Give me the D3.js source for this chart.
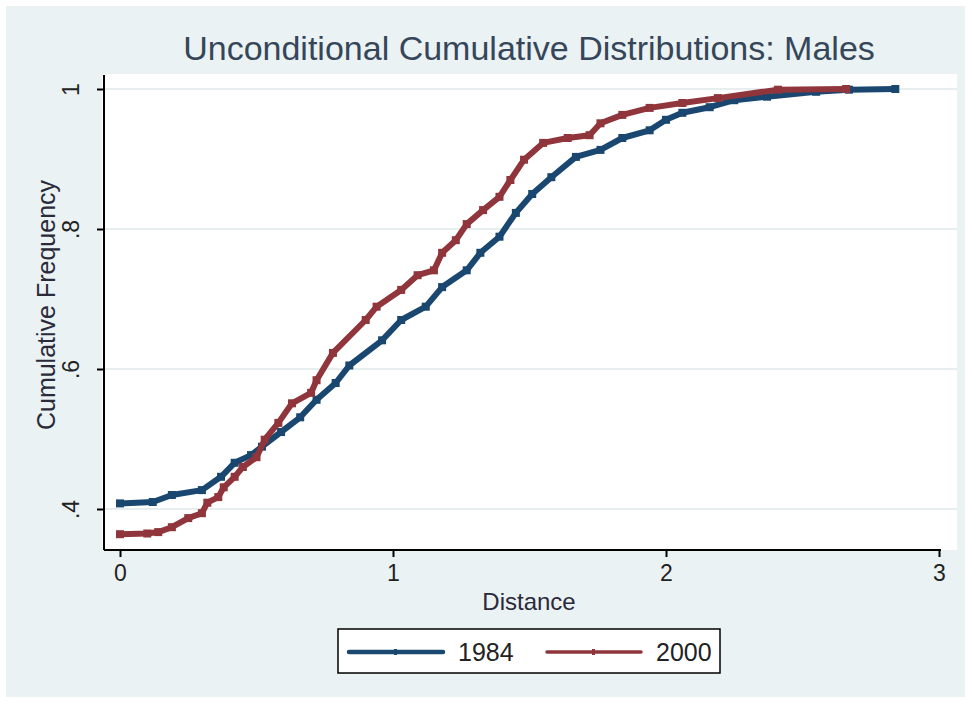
<!DOCTYPE html>
<html>
<head>
<meta charset="utf-8">
<script src="https://cdn.jsdelivr.net/npm/d3@7"></script>
<style>
  body { margin: 0; background: #fff; }
  text { font-family: "Liberation Sans", Arial, sans-serif; }
</style>
</head>
<body>
<svg id="chart" width="971" height="702"></svg>
<script>
// ECDF values: distance and cumulative share
const dist1984 = [0, 0.12, 0.19, 0.30, 0.37, 0.42, 0.48, 0.52, 0.59, 0.66, 0.72, 0.79, 0.84, 0.96, 1.03, 1.12, 1.18, 1.27, 1.32, 1.39, 1.45, 1.51, 1.58, 1.67, 1.76, 1.84, 1.94, 2.00, 2.06, 2.16, 2.25, 2.37, 2.55, 2.67, 2.84];
const freq1984 = [0.408, 0.41, 0.42, 0.427, 0.446, 0.466, 0.477, 0.489, 0.51, 0.531, 0.556, 0.58, 0.605, 0.641, 0.67, 0.689, 0.717, 0.741, 0.766, 0.789, 0.823, 0.85, 0.874, 0.903, 0.913, 0.93, 0.941, 0.956, 0.966, 0.974, 0.984, 0.989, 0.996, 0.999, 1.0];
const dist2000 = [0, 0.10, 0.14, 0.19, 0.25, 0.30, 0.32, 0.36, 0.38, 0.42, 0.45, 0.50, 0.53, 0.58, 0.63, 0.70, 0.72, 0.78, 0.90, 0.94, 1.03, 1.09, 1.15, 1.18, 1.23, 1.27, 1.33, 1.39, 1.43, 1.48, 1.55, 1.64, 1.72, 1.76, 1.84, 1.94, 2.06, 2.19, 2.41, 2.66];
const freq2000 = [0.364, 0.365, 0.367, 0.374, 0.387, 0.394, 0.409, 0.417, 0.431, 0.446, 0.46, 0.474, 0.499, 0.523, 0.551, 0.566, 0.584, 0.623, 0.67, 0.689, 0.713, 0.734, 0.741, 0.766, 0.784, 0.807, 0.827, 0.846, 0.87, 0.899, 0.923, 0.93, 0.934, 0.951, 0.963, 0.973, 0.98, 0.987, 0.999, 1.0];
const seriesNames = ["1984", "2000"];
const xTicks = [0, 1, 2, 3];
const yTicks = [0.4, 0.6, 0.8, 1];
const yTickLabels = [".4", ".6", ".8", "1"];

const colors = { "1984": "#1a476f", "2000": "#90353b" };
const bg = "#eaf2f3";

const svg = d3.select("#chart");

// outer graph region
svg.append("rect")
	.attr("x", 6).attr("y", 6)
	.attr("width", 959).attr("height", 691)
	.attr("fill", bg);

// Scales
let x = d3.scaleLinear().domain([0, 3]).range([120, 939]);
let y = d3.scaleLinear().domain([0.4, 1]).range([509, 89]);

// plot region
svg.append("rect")
	.attr("x", 102).attr("y", 74)
	.attr("width", 855).attr("height", 476)
	.attr("fill", "#fff");

// gridlines
svg.append("g")
	.selectAll("line")
	.data(yTicks)
	.enter()
	.append("line")
	.attr("x1", 104).attr("x2", 957)
	.attr("y1", d => y(d)).attr("y2", d => y(d))
	.attr("stroke", "#e6eeef")
	.attr("stroke-width", 2);

// Title
svg.append("text")
	.attr("x", 529).attr("y", 60)
	.attr("text-anchor", "middle")
	.attr("font-size", 34)
	.attr("fill", "#36465a")
	.text("Unconditional Cumulative Distributions: Males");

// Axes
let xAxis = d3.axisBottom(x).tickValues(xTicks).tickSize(7).tickPadding(8).tickFormat(d3.format("d"));
let gx = svg.append("g")
	.attr("transform", "translate(0,550)")
	.call(xAxis);
gx.select(".domain").attr("d", "M104,0H941");

let yAxis = d3.axisLeft(y).tickValues(yTicks).tickSize(7)
	.tickFormat((d, i) => yTickLabels[i]);
let gy = svg.append("g")
	.attr("transform", "translate(104,0)")
	.call(yAxis);
gy.select(".domain").attr("d", "M0,75V550");
gy.selectAll(".tick text")
	.attr("x", null).attr("dy", null)
	.attr("text-anchor", "middle")
	.attr("transform", "translate(-25,0) rotate(-90)");

[gx, gy].forEach(g => {
	g.select(".domain").attr("stroke", "#000").attr("stroke-width", 2);
	g.selectAll(".tick line").attr("stroke", "#000").attr("stroke-width", 2);
	g.selectAll(".tick text")
		.attr("font-size", 23)
		.attr("fill", "#222")
		.style("font-family", "\"Liberation Sans\", Arial, sans-serif");
});

// axis titles
svg.append("text")
	.attr("x", 529).attr("y", 610)
	.attr("text-anchor", "middle")
	.attr("font-size", 24)
	.attr("fill", "#2a2a3a")
	.text("Distance");

svg.append("text")
	.attr("transform", "translate(55,305) rotate(-90)")
	.attr("text-anchor", "middle")
	.attr("font-size", 25)
	.attr("fill", "#2a2a3a")
	.text("Cumulative Frequency");

// Series
const series = [
	{ key: "1984", values: dist1984.map((d, i) => ({ d: d, f: freq1984[i] })) },
	{ key: "2000", values: dist2000.map((d, i) => ({ d: d, f: freq2000[i] })) }
];

let line = d3.line()
	.x(v => x(v.d))
	.y(v => y(v.f));

let seriesGroup = svg.selectAll("g.series")
	.data(series)
	.enter()
	.append("g")
	.attr("class", "series");

seriesGroup.append("path")
	.attr("d", s => line(s.values))
	.attr("fill", "none")
	.attr("stroke", s => colors[s.key])
	.attr("stroke-width", 6)
	.attr("stroke-linejoin", "round");

seriesGroup.selectAll("rect.marker")
	.data(s => s.values.map(v => ({ key: s.key, d: v.d, f: v.f })))
	.enter()
	.append("rect")
	.attr("class", "marker")
	.attr("x", v => x(v.d) - 4)
	.attr("y", v => y(v.f) - 4)
	.attr("width", 8).attr("height", 8)
	.attr("fill", v => colors[v.key]);

// Legend
let legend = svg.append("g");
legend.append("rect")
	.attr("x", 338).attr("y", 629)
	.attr("width", 382).attr("height", 44)
	.attr("fill", "#fff")
	.attr("stroke", "#000")
	.attr("stroke-width", 1.5);

let legendX = d3.scaleOrdinal().domain(seriesNames).range([349, 547]);
let items = legend.selectAll("g.item")
	.data(seriesNames)
	.enter()
	.append("g")
	.attr("class", "item")
	.attr("transform", k => "translate(" + legendX(k) + ",652)");

items.append("line")
	.attr("x1", 0).attr("x2", 94)
	.attr("stroke", k => colors[k])
	.attr("stroke-width", k => k === "1984" ? 4.5 : 3.5)
	.attr("stroke-linecap", "round");

items.append("rect")
	.attr("x", 45).attr("y", -3)
	.attr("width", 3).attr("height", 6)
	.attr("fill", k => colors[k]);

items.append("text")
	.attr("x", 109).attr("y", 9)
	.attr("font-size", 25)
	.attr("fill", "#222")
	.text(k => k);
</script>
</body>
</html>
